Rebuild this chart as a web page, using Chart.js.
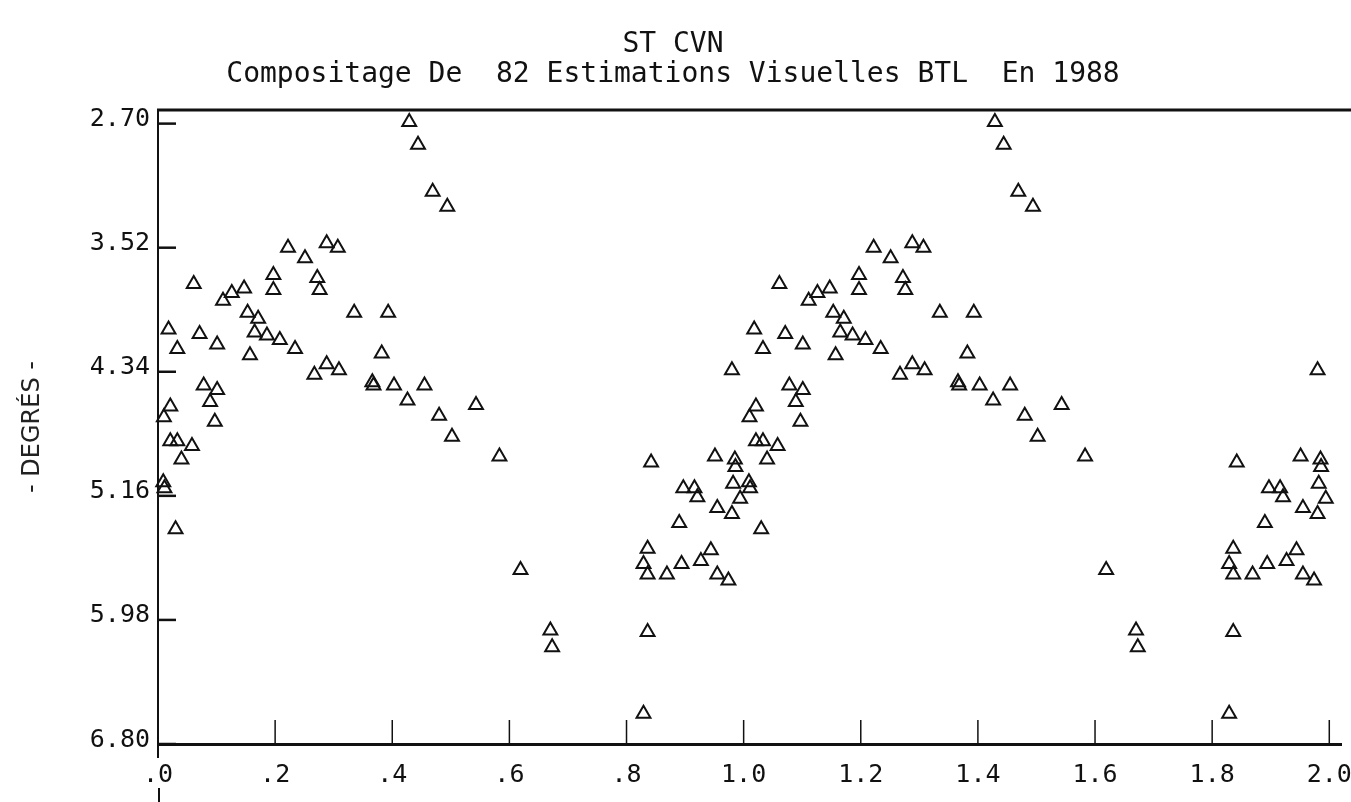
<!DOCTYPE html>
<html>
<head>
<meta charset="utf-8">
<title>ST CVN</title>
<script src="https://cdn.jsdelivr.net/npm/chart.js@4.4.1/dist/chart.umd.min.js"></script>
<style>
  html, body { margin: 0; padding: 0; background: #fff; }
  #wrap { width: 1351px; height: 802px; }
</style>
</head>
<body>
<div id="wrap"><canvas id="chart" width="1351" height="802"></canvas></div>
<script>
// phase-folded visual estimates (82 points), magnitude in degrees
const phases = [
  0.429, 0.444, 0.469, 0.494, 0.061, 0.222, 0.251, 0.288, 0.307, 0.197,
  0.197, 0.272, 0.276, 0.111, 0.126, 0.147, 0.335, 0.393, 0.018, 0.071,
  0.153, 0.171, 0.033, 0.101, 0.165, 0.186, 0.208, 0.234, 0.157, 0.382,
  0.267, 0.288, 0.309, 0.366, 0.368, 0.403, 0.455, 0.426, 0.480, 0.502,
  0.543, 0.583, 0.619, 0.670, 0.673, 0.078, 0.101, 0.089, 0.097, 0.021,
  0.010, 0.021, 0.033, 0.058, 0.040, 0.009, 0.011, 0.030, 0.842, 0.951,
  0.985, 0.986, 0.897, 0.916, 0.921, 0.982, 0.994, 0.955, 0.980, 0.890,
  0.836, 0.829, 0.836, 0.869, 0.894, 0.927, 0.944, 0.955, 0.974, 0.836,
  0.829, 0.980
];
const mags = [
  2.69, 2.84, 3.15, 3.25, 3.76, 3.52, 3.59, 3.49, 3.52, 3.70,
  3.80, 3.72, 3.80, 3.87, 3.82, 3.79, 3.95, 3.95, 4.06, 4.09,
  3.95, 3.99, 4.19, 4.16, 4.08, 4.10, 4.13, 4.19, 4.23, 4.22,
  4.36, 4.29, 4.33, 4.41, 4.43, 4.43, 4.43, 4.53, 4.63, 4.77,
  4.56, 4.90, 5.65, 6.05, 6.16, 4.43, 4.46, 4.54, 4.67, 4.57,
  4.64, 4.80, 4.80, 4.83, 4.92, 5.07, 5.11, 5.38, 4.94, 4.90,
  4.92, 4.97, 5.11, 5.11, 5.17, 5.08, 5.18, 5.24, 5.28, 5.34,
  5.51, 5.61, 5.68, 5.68, 5.61, 5.59, 5.52, 5.68, 5.72, 6.06,
  6.60, 4.33
];

const yTickValues = [2.70, 3.52, 4.34, 5.16, 5.98, 6.80];
const xTickValues = [0, 0.2, 0.4, 0.6, 0.8, 1.0, 1.2, 1.4, 1.6, 1.8, 2.0];
const xTickLabels = ['.0', '.2', '.4', '.6', '.8', '1.0', '1.2', '1.4', '1.6', '1.8', '2.0'];
const titleLines = ['ST CVN', 'Compositage De  82 Estimations Visuelles BTL  En 1988'];
const yTitle = '- DEGRÉS -';

const INK = '#111';
const MONO = "'DejaVu Sans Mono', 'Liberation Mono', monospace";

const firstCycle = phases.map((p, i) => ({ x: p, y: mags[i] }));
const secondCycle = phases.map((p, i) => ({ x: p + 1, y: mags[i] }));

// frame: top rule, inward tick marks, axis stub below the origin
const framePlugin = {
  id: 'frame',
  afterDraw(chart) {
    const { ctx, chartArea: a, scales } = chart;
    ctx.save();
    ctx.strokeStyle = INK;
    ctx.lineCap = 'butt';

    ctx.lineWidth = 3;
    ctx.beginPath();
    ctx.moveTo(a.left - 1, a.top);
    ctx.lineTo(chart.width, a.top);
    ctx.stroke();

    ctx.lineWidth = 2.5;
    yTickValues.forEach(v => {
      const py = scales.y.getPixelForValue(v);
      ctx.beginPath();
      ctx.moveTo(a.left, py);
      ctx.lineTo(a.left + 18, py);
      ctx.stroke();
    });

    ctx.lineWidth = 1.5;
    xTickValues.forEach(v => {
      if (v === 0) return;
      const px = scales.x.getPixelForValue(v);
      ctx.beginPath();
      ctx.moveTo(px, a.bottom);
      ctx.lineTo(px, a.bottom - 24);
      ctx.stroke();
    });

    ctx.lineWidth = 2;
    ctx.beginPath();
    ctx.moveTo(a.left, a.bottom);
    ctx.lineTo(a.left, a.bottom + 14);
    ctx.moveTo(a.left + 1, chart.height - 14);
    ctx.lineTo(a.left + 1, chart.height);
    ctx.stroke();
    ctx.restore();
  }
};

const markerStyle = {
  showLine: false,
  pointStyle: 'triangle',
  pointRadius: 8,
  pointHoverRadius: 8,
  pointBorderWidth: 2,
  pointBorderColor: INK,
  pointBackgroundColor: 'rgba(0,0,0,0)',
  clip: false
};

new Chart(document.getElementById('chart').getContext('2d'), {
  type: 'scatter',
  data: {
    datasets: [
      Object.assign({ label: 'Phase', data: firstCycle }, markerStyle),
      Object.assign({ label: 'Phase + 1', data: secondCycle }, markerStyle)
    ]
  },
  options: {
    responsive: false,
    animation: false,
    devicePixelRatio: 1,
    layout: { padding: { left: 0, right: 5, top: 0, bottom: 0 } },
    plugins: {
      legend: { display: false },
      tooltip: { enabled: false },
      title: {
        display: true,
        text: titleLines,
        color: INK,
        font: { family: MONO, size: 28, weight: 'normal', lineHeight: 30 / 28 },
        padding: { top: 30, bottom: 20 }
      }
    },
    scales: {
      x: {
        type: 'linear',
        min: 0,
        max: 2.02,
        afterBuildTicks: s => { s.ticks = xTickValues.map(v => ({ value: v })); },
        afterFit: s => { s.height = 58; s.paddingLeft = 0; s.paddingRight = 0; },
        grid: { display: false, drawTicks: false },
        border: { display: true, color: INK, width: 3 },
        ticks: {
          color: INK,
          padding: 16,
          maxRotation: 0,
          autoSkip: false,
          font: { family: MONO, size: 25 },
          callback: (v, i) => xTickLabels[i]
        }
      },
      y: {
        type: 'linear',
        reverse: true,
        min: 2.61,
        max: 6.80,
        afterBuildTicks: s => { s.ticks = yTickValues.map(v => ({ value: v })); },
        afterFit: s => { s.width = 158; s.paddingTop = 0; s.paddingBottom = 0; },
        grid: { display: false, drawTicks: false },
        border: { display: true, color: INK, width: 2 },
        title: {
          display: true,
          text: yTitle,
          color: '#222',
          font: { family: "'DejaVu Sans', sans-serif", size: 24 },
          padding: { top: 18, bottom: 0 }
        },
        ticks: {
          color: INK,
          padding: 8,
          labelOffset: -4,
          autoSkip: false,
          font: { family: MONO, size: 25 },
          callback: v => Number(v).toFixed(2)
        }
      }
    }
  },
  plugins: [framePlugin]
});
</script>
</body>
</html>
